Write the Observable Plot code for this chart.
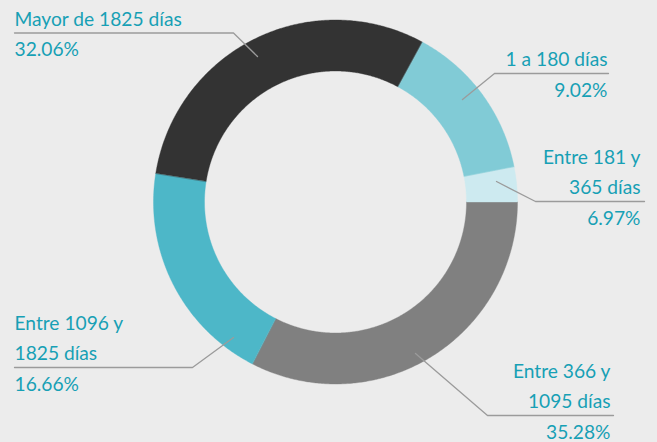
<!DOCTYPE html>
<html><head><meta charset="utf-8">
<script src="https://cdn.jsdelivr.net/npm/d3@7"></script>
<script src="https://cdn.jsdelivr.net/npm/@observablehq/plot@0.6"></script>
<style>
html,body{margin:0;padding:0;background:#ececec;}
#chart{width:657px;height:442px;}
</style>
</head><body><div id="chart"></div>
<script>
// ---- data ----
const categories = ["1 a 180 días", "Entre 181 y 365 días", "Entre 366 y 1095 días", "Entre 1096 y 1825 días", "Mayor de 1825 días"];
const percentLabels = ["9.02%", "6.97%", "35.28%", "16.66%", "32.06%"];
// slice sizes as drawn in the picture (share of the ring, %)
const sliceShares = [14.0, 3.06, 32.56, 19.97, 30.42];
const nameLines = [["1 a 180 días"], ["Entre 181 y", "365 días"], ["Entre 366 y", "1095 días"], ["Entre 1096 y", "1825 días"], ["Mayor de 1825 días"]];
// clockwise drawing order, starting at 3 o'clock
const sliceOrder = ["Entre 366 y 1095 días", "Entre 1096 y 1825 días", "Mayor de 1825 días", "1 a 180 días", "Entre 181 y 365 días"];

// ---- styles / layout ----
const sliceColors = ["#81cbd6", "#cdeaf0", "#808080", "#4db7c8", "#333333"];
const textColor = "#17a0b5";
const ruleColor = "#9b9b9b";
const W = 657, H = 442;
const CX = 335, CY = 201.5, R_OUT = 182, R_IN = 131, START_DEG = 90;
const FONT_SIZE = 19.2;
// label layout in page pixels: text x, anchor, rule y, rule outer end, elbow x, tip
const labelLayout = {
  "1 a 180 días":          {anchor: "end",   textX: 607, ruleY: 73,  ruleEnd: 608, elbowX: 494, tip: [462, 99]},
  "Entre 181 y 365 días":  {anchor: "end",   textX: 640, ruleY: 201, ruleEnd: 644, elbowX: 535, tip: [496, 181]},
  "Entre 366 y 1095 días": {anchor: "end",   textX: 610, ruleY: 415, ruleEnd: 613, elbowX: 487, tip: [415, 353]},
  "Entre 1096 y 1825 días":{anchor: "start", textX: 14,  ruleY: 367, ruleEnd: 14,  elbowX: 192, tip: [233, 337]},
  "Mayor de 1825 días":    {anchor: "start", textX: 14,  ruleY: 32.5,ruleEnd: 14,  elbowX: 233, tip: [257, 56]}
};
const px = x => x - CX, py = y => CY - y;

// ---- build slice polygons ----
const total = d3.sum(sliceShares);
const slicePts = [];
let a = START_DEG;
for (const cat of sliceOrder) {
  const i = categories.indexOf(cat);
  const span = sliceShares[i] / total * 360;
  const a0 = a, a1 = a + span;
  const n = Math.max(4, Math.ceil(span * 2));
  const rad = d => d * Math.PI / 180;
  for (let k = 0; k <= n; k++) {
    const t = rad(a0 + (a1 - a0) * k / n);
    slicePts.push({cat, x: R_OUT * Math.sin(t), y: R_OUT * Math.cos(t)});
  }
  for (let k = n; k >= 0; k--) {
    const t = rad(a0 + (a1 - a0) * k / n);
    slicePts.push({cat, x: R_IN * Math.sin(t), y: R_IN * Math.cos(t)});
  }
  a = a1;
}

// ---- leaders & text ----
const leaderPts = [];
const textRows = [];
categories.forEach((cat, i) => {
  const L = labelLayout[cat];
  leaderPts.push({cat, x: px(L.ruleEnd), y: py(L.ruleY)});
  leaderPts.push({cat, x: px(L.elbowX), y: py(L.ruleY)});
  leaderPts.push({cat, x: px(L.tip[0]), y: py(L.tip[1])});
  const lines = nameLines[i];
  lines.forEach((t, j) => {
    textRows.push({text: t, anchor: L.anchor, x: px(L.textX), y: py(L.ruleY - 7.5 - 30 * (lines.length - 1 - j))});
  });
  textRows.push({text: percentLabels[i], anchor: L.anchor, x: px(L.textX), y: py(L.ruleY + 23)});
});

const chart = Plot.plot({
  width: W, height: H,
  margin: 0,
  style: {background: "transparent", fontFamily: "Lato"},
  x: {domain: [-CX, W - CX], axis: null},
  y: {domain: [CY - H, CY], axis: null},
  color: {domain: categories, range: sliceColors},
  marks: [
    Plot.line(slicePts, {x: "x", y: "y", z: "cat", fill: "cat", stroke: "cat", strokeWidth: 0.4, curve: "linear-closed"}),
    Plot.line(leaderPts, {x: "x", y: "y", z: "cat", stroke: ruleColor, strokeWidth: 1.3}),
    Plot.text(textRows.filter(d => d.anchor === "start"), {x: "x", y: "y", text: "text", textAnchor: "start", lineAnchor: "bottom", fill: textColor, fontSize: FONT_SIZE, fontFamily: "Lato"}),
    Plot.text(textRows.filter(d => d.anchor === "end"), {x: "x", y: "y", text: "text", textAnchor: "end", lineAnchor: "bottom", fill: textColor, fontSize: FONT_SIZE, fontFamily: "Lato"})
  ]
});
document.getElementById("chart").append(chart);
</script>
</body></html>
